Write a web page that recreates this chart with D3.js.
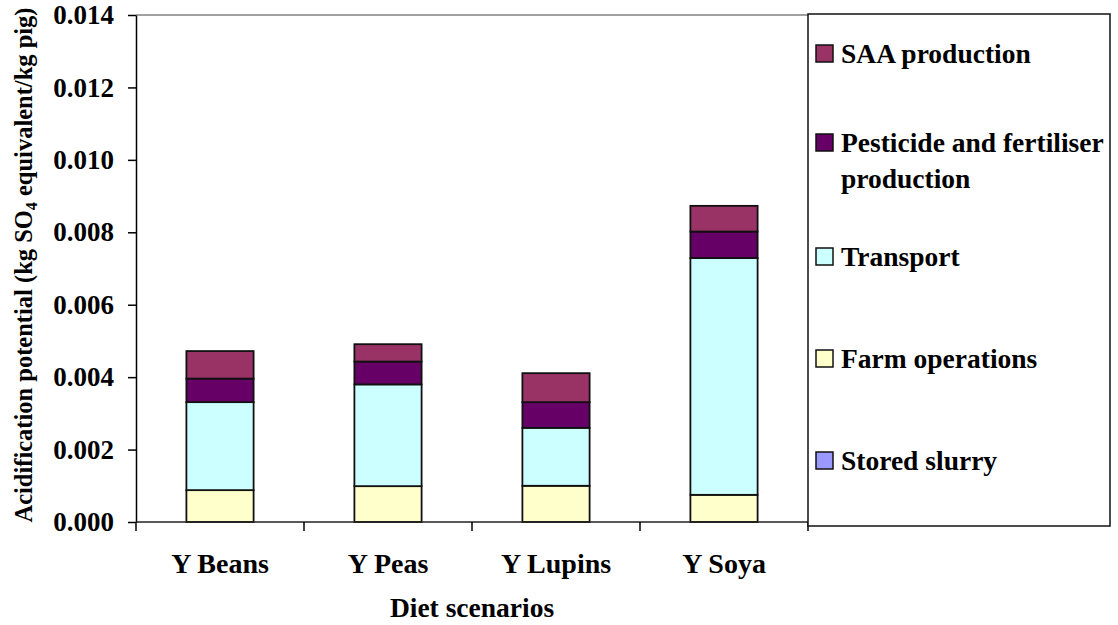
<!DOCTYPE html>
<html>
<head>
<meta charset="utf-8">
<script src="https://cdn.jsdelivr.net/npm/d3@7"></script>
<style>
  html, body { margin: 0; padding: 0; background: #fff; }
  svg { display: block; font-family: "Liberation Serif", "Times New Roman", serif; font-weight: bold; }
</style>
</head>
<body>
<svg id="chart" width="1118" height="625"></svg>
<script>
// Diet scenarios and acidification contributions (kg SO4 eq / kg pig)
const categories = ["Y Beans", "Y Peas", "Y Lupins", "Y Soya"];
const storedSlurry = [0, 0, 0, 0];
const farmOperations = [0.00088, 0.00099, 0.00100, 0.00075];
const transport = [0.00243, 0.00281, 0.00160, 0.00654];
const pesticideFertiliser = [0.00065, 0.00063, 0.00071, 0.00073];
const saaProduction = [0.00076, 0.00048, 0.00080, 0.00071];
const yTicks = [0, 0.002, 0.004, 0.006, 0.008, 0.010, 0.012, 0.014];

// Stack order, bottom to top
const seriesNames = ["Stored slurry", "Farm operations", "Transport", "Pesticide and fertiliser production", "SAA production"];
const seriesValues = [storedSlurry, farmOperations, transport, pesticideFertiliser, saaProduction];
const seriesColors = ["#9999FF", "#FFFFCC", "#CCFFFF", "#660066", "#993366"];

const rows = categories.map((c, i) => {
  const r = { category: c };
  seriesNames.forEach((s, j) => { r[s] = seriesValues[j][i]; });
  return r;
});

const svg = d3.select("#chart");
const plot = { left: 136, right: 808, top: 15, bottom: 522 };
const serif = "'Liberation Serif', 'Times New Roman', serif";

const x = d3.scaleBand()
  .domain(categories)
  .range([plot.left, plot.right])
  .paddingInner(0.6)
  .paddingOuter(0.3);

const y = d3.scaleLinear()
  .domain([0, 0.014])
  .range([plot.bottom, plot.top]);

const color = d3.scaleOrdinal().domain(seriesNames).range(seriesColors);

// Plot area top border
svg.append("line")
  .attr("x1", plot.left).attr("x2", plot.right)
  .attr("y1", plot.top).attr("y2", plot.top)
  .attr("stroke", "#808080").attr("stroke-width", 1.5);

// Stacked bars
const stacked = d3.stack().keys(seriesNames)(rows);
svg.append("g")
  .selectAll("g")
  .data(stacked)
  .join("g")
  .attr("fill", d => color(d.key))
  .selectAll("rect")
  .data(d => d.filter(p => p[1] - p[0] > 0))
  .join("rect")
  .attr("x", d => x(d.data.category))
  .attr("width", x.bandwidth())
  .attr("y", d => y(d[1]))
  .attr("height", d => y(d[0]) - y(d[1]))
  .attr("stroke", "#111")
  .attr("stroke-width", 1.8);

// Y axis
const yAxis = svg.append("g")
  .attr("transform", `translate(${plot.left},0)`)
  .call(d3.axisLeft(y).tickValues(yTicks).tickFormat(d3.format(".3f")).tickSize(8).tickPadding(14).tickSizeOuter(0));
yAxis.select(".domain").attr("stroke", "#000").attr("stroke-width", 1.5);
yAxis.selectAll(".tick line").attr("stroke", "#000").attr("stroke-width", 1.5);
yAxis.selectAll(".tick text")
  .attr("font-family", serif)
  .attr("font-weight", "bold")
  .attr("font-size", 27)
  .attr("fill", "#000");

// X axis: labels centred on categories, tick marks between categories
const xAxis = svg.append("g")
  .attr("transform", `translate(0,${plot.bottom})`)
  .call(d3.axisBottom(x).tickSize(0).tickPadding(31).tickSizeOuter(0));
xAxis.select(".domain").remove();
xAxis.selectAll(".tick text")
  .attr("font-family", serif)
  .attr("font-weight", "bold")
  .attr("font-size", 28)
  .attr("fill", "#000");

svg.append("line")
  .attr("x1", plot.left).attr("x2", plot.right)
  .attr("y1", plot.bottom).attr("y2", plot.bottom)
  .attr("stroke", "#222").attr("stroke-width", 1.5);

const boundaries = d3.range(categories.length + 1).map(i => plot.left + i * x.step());
svg.append("g")
  .selectAll("line")
  .data(boundaries)
  .join("line")
  .attr("x1", d => d).attr("x2", d => d)
  .attr("y1", plot.bottom).attr("y2", plot.bottom + 9)
  .attr("stroke", "#000").attr("stroke-width", 1.5);

// Axis titles
svg.append("text")
  .attr("x", (plot.left + plot.right) / 2)
  .attr("y", 617)
  .attr("text-anchor", "middle")
  .attr("font-size", 27.5)
  .text("Diet scenarios");

const yTitle = svg.append("text")
  .attr("transform", "translate(32,265) rotate(-90)")
  .attr("text-anchor", "middle")
  .attr("font-size", 24.5);
yTitle.append("tspan").text("Acidification potential (kg SO");
yTitle.append("tspan").attr("font-size", 16).attr("dy", 5).text("4");
yTitle.append("tspan").attr("dy", -5).text(" equivalent/kg pig)");

// Legend
const legend = svg.append("g");
legend.append("rect")
  .attr("x", 808).attr("y", 14)
  .attr("width", 302).attr("height", 512)
  .attr("fill", "#fff")
  .attr("stroke", "#111").attr("stroke-width", 1.5);

const legendItems = [
  { name: "SAA production", lines: ["SAA production"], cy: 54 },
  { name: "Pesticide and fertiliser production", lines: ["Pesticide and fertiliser", "production"], cy: 143 },
  { name: "Transport", lines: ["Transport"], cy: 257 },
  { name: "Farm operations", lines: ["Farm operations"], cy: 359 },
  { name: "Stored slurry", lines: ["Stored slurry"], cy: 461 }
];

const li = legend.selectAll("g.item")
  .data(legendItems)
  .join("g")
  .attr("class", "item");

li.append("rect")
  .attr("x", 816)
  .attr("y", d => d.cy - 9)
  .attr("width", 17).attr("height", 17)
  .attr("fill", d => color(d.name))
  .attr("stroke", "#111").attr("stroke-width", 1.5);

li.append("text")
  .attr("x", 841)
  .attr("y", d => d.cy + 9)
  .attr("font-size", 27.5)
  .selectAll("tspan")
  .data(d => d.lines)
  .join("tspan")
  .attr("x", 841)
  .attr("dy", (d, i) => i === 0 ? 0 : 36)
  .text(d => d);
</script>
</body>
</html>
